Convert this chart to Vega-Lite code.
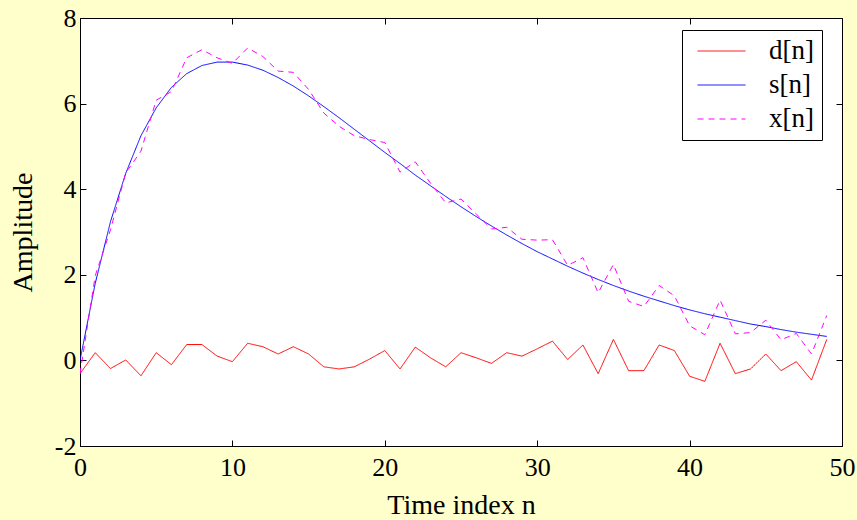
{
  "$schema": "https://vega.github.io/schema/vega-lite/v6.json",
  "autosize": "none",
  "width": 762,
  "height": 428,
  "padding": {"left": 80, "top": 18, "right": 15, "bottom": 74},
  "background": "#FFFFCC",
  "config": {
    "font": "Liberation Serif",
    "view": {"fill": "white", "stroke": "black", "strokeWidth": 1},
    "axis": {
      "grid": false,
      "labelFont": "Liberation Serif",
      "labelFontSize": 26,
      "labelColor": "black",
      "titleFont": "Liberation Serif",
      "titleFontSize": 28,
      "titleFontWeight": "normal",
      "titleColor": "black",
      "tickColor": "black",
      "domainColor": "black",
      "tickSize": -6,
      "labelFlush": false,
      "labelOverlap": false
    },
    "legend": {
      "labelFont": "Liberation Serif",
      "labelFontSize": 27,
      "labelColor": "black"
    }
  },
  "data": {
    "values": [
      {"n": 0, "d": -0.31, "s": 0.0, "x": -0.31},
      {"n": 1, "d": 0.18, "s": 1.8, "x": 1.98},
      {"n": 2, "d": -0.19, "s": 3.24, "x": 3.05},
      {"n": 3, "d": 0.01, "s": 4.37, "x": 4.38},
      {"n": 4, "d": -0.36, "s": 5.25, "x": 4.89},
      {"n": 5, "d": 0.18, "s": 5.9, "x": 6.08},
      {"n": 6, "d": -0.1, "s": 6.38, "x": 6.28},
      {"n": 7, "d": 0.37, "s": 6.7, "x": 7.07},
      {"n": 8, "d": 0.37, "s": 6.89, "x": 7.26},
      {"n": 9, "d": 0.1, "s": 6.97, "x": 7.07},
      {"n": 10, "d": -0.03, "s": 6.97, "x": 6.94},
      {"n": 11, "d": 0.4, "s": 6.9, "x": 7.3},
      {"n": 12, "d": 0.32, "s": 6.78, "x": 7.1},
      {"n": 13, "d": 0.15, "s": 6.61, "x": 6.76},
      {"n": 14, "d": 0.32, "s": 6.41, "x": 6.73},
      {"n": 15, "d": 0.15, "s": 6.18, "x": 6.33},
      {"n": 16, "d": -0.15, "s": 5.93, "x": 5.78},
      {"n": 17, "d": -0.2, "s": 5.67, "x": 5.47},
      {"n": 18, "d": -0.15, "s": 5.4, "x": 5.25},
      {"n": 19, "d": 0.03, "s": 5.13, "x": 5.16},
      {"n": 20, "d": 0.23, "s": 4.86, "x": 5.09},
      {"n": 21, "d": -0.2, "s": 4.6, "x": 4.4},
      {"n": 22, "d": 0.31, "s": 4.33, "x": 4.64},
      {"n": 23, "d": 0.06, "s": 4.08, "x": 4.14},
      {"n": 24, "d": -0.15, "s": 3.83, "x": 3.68},
      {"n": 25, "d": 0.18, "s": 3.59, "x": 3.77},
      {"n": 26, "d": 0.06, "s": 3.36, "x": 3.42},
      {"n": 27, "d": -0.07, "s": 3.14, "x": 3.07},
      {"n": 28, "d": 0.18, "s": 2.93, "x": 3.11},
      {"n": 29, "d": 0.1, "s": 2.73, "x": 2.83},
      {"n": 30, "d": 0.27, "s": 2.54, "x": 2.81},
      {"n": 31, "d": 0.45, "s": 2.37, "x": 2.82},
      {"n": 32, "d": 0.02, "s": 2.2, "x": 2.22},
      {"n": 33, "d": 0.36, "s": 2.04, "x": 2.4},
      {"n": 34, "d": -0.31, "s": 1.89, "x": 1.58},
      {"n": 35, "d": 0.49, "s": 1.75, "x": 2.24},
      {"n": 36, "d": -0.24, "s": 1.62, "x": 1.38},
      {"n": 37, "d": -0.24, "s": 1.5, "x": 1.26},
      {"n": 38, "d": 0.36, "s": 1.39, "x": 1.75},
      {"n": 39, "d": 0.23, "s": 1.28, "x": 1.51},
      {"n": 40, "d": -0.37, "s": 1.18, "x": 0.81},
      {"n": 41, "d": -0.49, "s": 1.09, "x": 0.6},
      {"n": 42, "d": 0.4, "s": 1.01, "x": 1.41},
      {"n": 43, "d": -0.31, "s": 0.93, "x": 0.62},
      {"n": 44, "d": -0.2, "s": 0.85, "x": 0.65},
      {"n": 45, "d": 0.15, "s": 0.79, "x": 0.94},
      {"n": 46, "d": -0.24, "s": 0.72, "x": 0.48},
      {"n": 47, "d": -0.03, "s": 0.66, "x": 0.63},
      {"n": 48, "d": -0.46, "s": 0.61, "x": 0.15},
      {"n": 49, "d": 0.49, "s": 0.56, "x": 1.05}
    ]
  },
  "transform": [{"fold": ["d", "s", "x"], "as": ["series", "value"]}],
  "layer": [
    {
      "mark": {"type": "line", "strokeWidth": 1, "clip": true},
      "encoding": {
        "x": {
          "field": "n",
          "type": "quantitative",
          "scale": {"domain": [0, 50], "nice": false, "zero": false},
          "axis": {"orient": "bottom", "values": [0, 10, 20, 30, 40, 50], "title": "Time index n", "labelPadding": 14, "titlePadding": 11}
        },
        "y": {
          "field": "value",
          "type": "quantitative",
          "scale": {"domain": [-2, 8], "nice": false, "zero": false},
          "axis": {"orient": "left", "values": [-2, 0, 2, 4, 6, 8], "labelExpr": "toString(datum.value)", "title": "Amplitude", "labelPadding": 10, "titlePadding": 17}
        },
        "color": {
          "field": "series",
          "type": "nominal",
          "scale": {"domain": ["d", "s", "x"], "range": ["#FF0000", "#0000FF", "#FF00FF"]},
          "legend": {
            "title": null,
            "orient": "none",
            "legendX": 602,
            "legendY": 12,
            "labelExpr": "datum.label + '[n]'",
            "symbolType": "stroke",
            "symbolSize": 2304,
            "symbolStrokeWidth": 1,
            "strokeColor": "black",
            "fillColor": "white",
            "padding": 8,
            "clipHeight": 26,
            "symbolOffset": 7,
            "labelOffset": 23,
            "rowPadding": 7
          }
        },
        "strokeDash": {
          "field": "series",
          "type": "nominal",
          "scale": {"domain": ["d", "s", "x"], "range": [[1, 0], [1, 0], [6, 5]]},
          "legend": {
            "title": null,
            "orient": "none",
            "legendX": 602,
            "legendY": 12,
            "labelExpr": "datum.label + '[n]'",
            "symbolType": "stroke",
            "symbolSize": 2304,
            "symbolStrokeWidth": 1,
            "strokeColor": "black",
            "fillColor": "white",
            "padding": 8,
            "clipHeight": 26,
            "symbolOffset": 7,
            "labelOffset": 23,
            "rowPadding": 7
          }
        }
      }
    },
    {
      "mark": {"type": "point", "opacity": 0},
      "encoding": {
        "x": {
          "field": "n",
          "type": "quantitative",
          "axis": {"orient": "top", "values": [0, 10, 20, 30, 40, 50], "labels": false, "title": null, "domain": false}
        },
        "y": {
          "field": "value",
          "type": "quantitative",
          "axis": {"orient": "right", "values": [-2, 0, 2, 4, 6, 8], "labels": false, "title": null, "domain": false}
        }
      }
    }
  ],
  "resolve": {"axis": {"x": "independent", "y": "independent"}}
}
